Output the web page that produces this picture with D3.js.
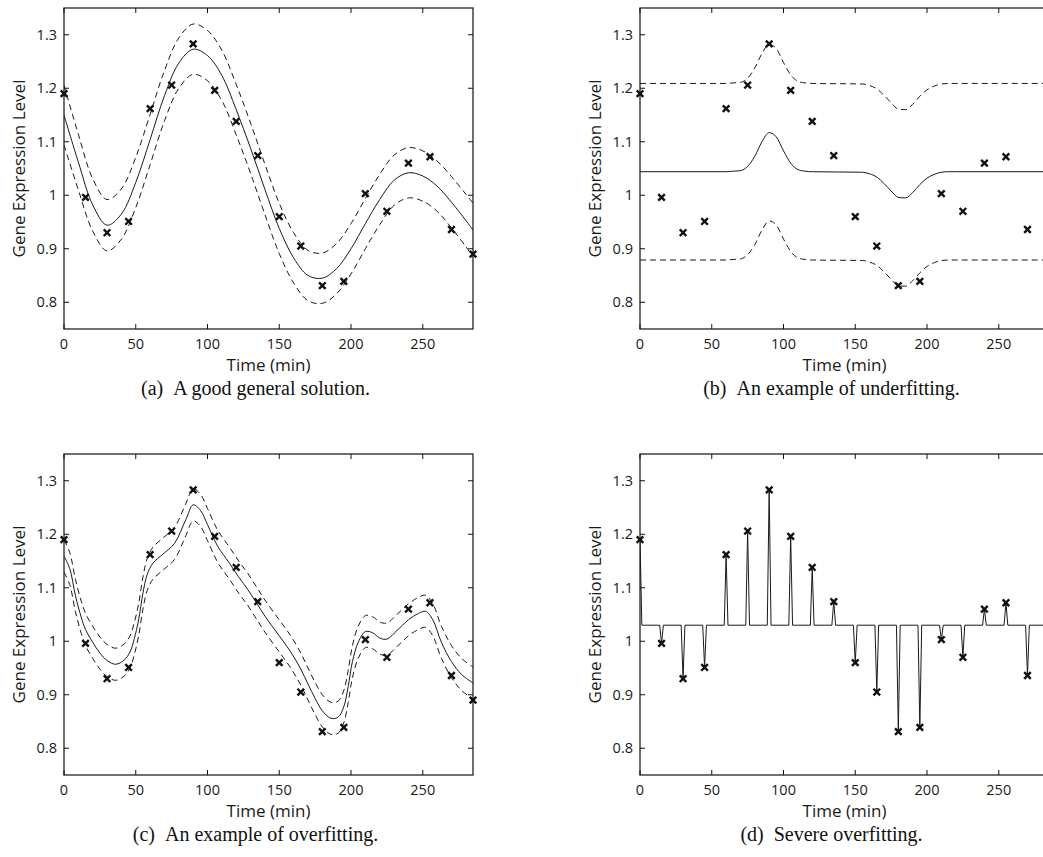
<!DOCTYPE html>
<html>
<head>
<meta charset="utf-8">
<script src="https://cdn.jsdelivr.net/npm/d3@7"></script>
<style>
  body { margin: 0; background: #fff; }
  svg { display: block; }
  .tick-label { font-family: "Open Sans", sans-serif; font-size: 14.5px; fill: #1a1a1a; }
  .axis-label { font-family: "Open Sans", sans-serif; font-size: 17px; fill: #1a1a1a; }
  .caption { font-family: "Liberation Serif", "Times New Roman", serif; font-size: 20px; fill: #111; }
</style>
</head>
<body>
<div id="chart"></div>
<script>
// measured expression values, sampled every 15 min
var obsTime = [0, 15, 30, 45, 60, 75, 90, 105, 120, 135, 150, 165, 180, 195, 210, 225, 240, 255, 270, 285];
var obsValue = [1.190, 0.996, 0.930, 0.951, 1.162, 1.206, 1.283, 1.196, 1.138, 1.074,
                0.960, 0.905, 0.831, 0.839, 1.003, 0.970, 1.060, 1.072, 0.936, 0.890];

// (a) good fit: mean and band half-width
var aTime = [0, 10, 20, 30, 40, 50, 60, 70, 80, 90, 100, 110, 120, 130, 140, 150, 160, 170, 180, 190, 200, 210, 220, 230, 240, 250, 260, 270, 280, 285];
var aMean = [1.150, 1.062, 0.982, 0.944, 0.965, 1.024, 1.104, 1.186, 1.247, 1.273, 1.261, 1.224, 1.160, 1.088, 1.011,
             0.938, 0.883, 0.850, 0.845, 0.863, 0.900, 0.947, 0.992, 1.028, 1.042, 1.036, 1.017, 0.987, 0.953, 0.935];
var aSd = [0.056, 0.052, 0.049, 0.048, 0.047, 0.047, 0.047, 0.047, 0.047, 0.047, 0.047, 0.047, 0.047, 0.047, 0.047,
           0.047, 0.047, 0.047, 0.047, 0.047, 0.047, 0.047, 0.047, 0.047, 0.047, 0.047, 0.047, 0.048, 0.049, 0.050];

// (b) underfitting: flat mean with two bumps, constant band
var bTime = [0, 60, 65, 70, 75, 80, 85, 90, 95, 100, 105, 110, 115, 120, 155, 160, 165, 170, 175, 180, 185, 190, 195, 200, 205, 210, 215, 220, 285];
var bMean = [1.044, 1.044, 1.045, 1.046, 1.054, 1.073, 1.100, 1.117, 1.109, 1.083, 1.060, 1.048, 1.045, 1.044,
             1.043, 1.040, 1.034, 1.022, 1.008, 0.996, 0.995, 1.005, 1.020, 1.032, 1.039, 1.043, 1.044, 1.044, 1.044];
var bBand = 0.165;

// (c) overfitting
var cTime = [0, 4, 8, 12, 15, 20, 25, 30, 36, 42, 46, 49, 52, 55, 58, 62, 69, 77, 85, 90, 95, 100, 107, 115, 122, 128,
             135, 140, 150, 158, 165, 170, 175, 180, 186, 191, 195, 198, 201, 205, 210, 215, 220, 225, 232, 240, 247,
             252, 257, 263, 270, 277, 285];
var cMean = [1.159, 1.136, 1.085, 1.045, 1.022, 0.998, 0.978, 0.964, 0.957, 0.965, 0.980, 1.005, 1.040, 1.090, 1.125,
             1.146, 1.163, 1.183, 1.228, 1.255, 1.245, 1.218, 1.178, 1.147, 1.119, 1.097, 1.068, 1.047, 1.010, 0.980,
             0.948, 0.920, 0.893, 0.870, 0.856, 0.858, 0.878, 0.915, 0.962, 0.998, 1.018, 1.016, 1.006, 1.004, 1.020,
             1.040, 1.052, 1.056, 1.040, 0.998, 0.962, 0.938, 0.922];
var cBand = 0.03;

// (d) severe overfitting: flat level, spikes at every observation
var dBase = 1.03;
var dSpikeHalf = 1.3; // minutes

var xTicks = [0, 50, 100, 150, 200, 250];
var yTicks = [0.8, 0.9, 1, 1.1, 1.2, 1.3];
var captions = ["(a)\u2002A good general solution.", "(b)\u2002An example of underfitting.",
                "(c)\u2002An example of overfitting.", "(d)\u2002Severe overfitting."];

var W = 1043, H = 857;
var plotW = 409, plotH = 321;
var origins = [[64, 8], [640, 8], [64, 454], [640, 454]];

var svg = d3.select("#chart").append("svg")
  .attr("width", W).attr("height", H);

function bandOf(times, mean, sd, sign) {
  return times.map(function(t, i) {
    var s = Array.isArray(sd) ? sd[i] : sd;
    return [t, mean[i] + sign * s];
  });
}

function zip(times, vals) {
  return times.map(function(t, i) { return [t, vals[i]]; });
}

function drawPanel(idx, curves, curveType) {
  var ox = origins[idx][0], oy = origins[idx][1];
  var g = svg.append("g").attr("transform", "translate(" + ox + "," + oy + ")");

  var x = d3.scaleLinear().domain([0, 285]).range([0, plotW]);
  var y = d3.scaleLinear().domain([0.75, 1.35]).range([plotH, 0]);

  var clipId = "clip" + idx;
  g.append("clipPath").attr("id", clipId)
    .append("rect").attr("width", plotW).attr("height", plotH);

  var line = d3.line()
    .x(function(d) { return x(d[0]); })
    .y(function(d) { return y(d[1]); })
    .curve(curveType);

  var lines = g.append("g").attr("clip-path", "url(#" + clipId + ")");
  curves.forEach(function(c) {
    lines.append("path")
      .attr("d", line(c.pts))
      .attr("fill", "none")
      .attr("stroke", "#1a1a1a")
      .attr("stroke-width", 1)
      .attr("stroke-dasharray", c.dashed ? "6,4" : null);
  });

  // the box, with inward ticks on all four sides
  g.append("rect")
    .attr("width", plotW).attr("height", plotH)
    .attr("fill", "none").attr("stroke", "#111").attr("stroke-width", 1.2);

  var tl = 5;
  xTicks.forEach(function(t) {
    g.append("line").attr("x1", x(t)).attr("x2", x(t)).attr("y1", plotH).attr("y2", plotH - tl)
      .attr("stroke", "#111");
    g.append("line").attr("x1", x(t)).attr("x2", x(t)).attr("y1", 0).attr("y2", tl)
      .attr("stroke", "#111");
    g.append("text").attr("class", "tick-label")
      .attr("x", x(t)).attr("y", plotH + 19.5)
      .attr("text-anchor", "middle").text(t);
  });
  yTicks.forEach(function(v) {
    g.append("line").attr("x1", 0).attr("x2", tl).attr("y1", y(v)).attr("y2", y(v))
      .attr("stroke", "#111");
    g.append("line").attr("x1", plotW).attr("x2", plotW - tl).attr("y1", y(v)).attr("y2", y(v))
      .attr("stroke", "#111");
    g.append("text").attr("class", "tick-label")
      .attr("x", -7).attr("y", y(v)).attr("dy", "0.35em")
      .attr("text-anchor", "end").text(v);
  });

  g.append("text").attr("class", "axis-label")
    .attr("x", plotW / 2).attr("y", plotH + 42)
    .attr("text-anchor", "middle").text("Time (min)");

  g.append("text").attr("class", "axis-label")
    .attr("transform", "translate(" + (-39) + "," + (plotH / 2) + ") rotate(-90)")
    .attr("text-anchor", "middle").text("Gene Expression Level");

  // observations as bold crosses
  var m = 3.3;
  g.append("g").selectAll("path")
    .data(zip(obsTime, obsValue))
    .enter().append("path")
      .attr("d", function(d) {
        var cx = x(d[0]), cy = y(d[1]);
        return "M" + (cx - m) + "," + (cy - m) + "L" + (cx + m) + "," + (cy + m) +
               "M" + (cx - m) + "," + (cy + m) + "L" + (cx + m) + "," + (cy - m);
      })
      .attr("stroke", "#111").attr("stroke-width", 2.4).attr("fill", "none");

  g.append("text").attr("class", "caption")
    .attr("x", plotW / 2 - 13).attr("y", plotH + 66)
    .attr("text-anchor", "middle").text(captions[idx]);
}

drawPanel(0, [
  {pts: zip(aTime, aMean)},
  {pts: bandOf(aTime, aMean, aSd, 1), dashed: true},
  {pts: bandOf(aTime, aMean, aSd, -1), dashed: true}
], d3.curveCatmullRom);

drawPanel(1, [
  {pts: zip(bTime, bMean)},
  {pts: bandOf(bTime, bMean, bBand, 1), dashed: true},
  {pts: bandOf(bTime, bMean, bBand, -1), dashed: true}
], d3.curveMonotoneX);

drawPanel(2, [
  {pts: zip(cTime, cMean)},
  {pts: bandOf(cTime, cMean, cBand, 1), dashed: true},
  {pts: bandOf(cTime, cMean, cBand, -1), dashed: true}
], d3.curveCatmullRom);

// spikes: leave the base level just before each observation, come back just after
var dPts = [];
obsTime.forEach(function(t, i) {
  if (t > 0) dPts.push([t - dSpikeHalf, dBase]);
  dPts.push([t, obsValue[i]]);
  dPts.push([t + dSpikeHalf, dBase]);
});
drawPanel(3, [{pts: dPts}], d3.curveLinear);
</script>
</body>
</html>
